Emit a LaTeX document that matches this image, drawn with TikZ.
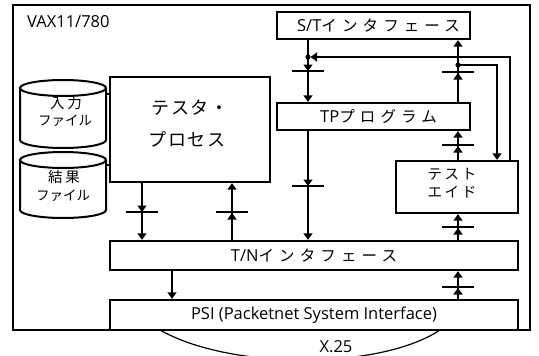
\documentclass[tikz,border=0pt]{standalone}
\usepackage{fontspec}
\setmainfont{Open Sans}
\newfontfamily\jpA{Noto Sans CJK JP}[LetterSpace=33]
\newfontfamily\jpB{Noto Sans CJK JP}[LetterSpace=8]
\newfontfamily\jpC{Noto Sans CJK JP}[LetterSpace=18]
\newfontfamily\jpD{Noto Sans CJK JP}
\usetikzlibrary{arrows.meta}
\newcommand\LT[1]{{\fontsize{16.5}{20}\selectfont #1}}
\newcommand\KA[1]{{\fontsize{15.5}{18}\jpA #1}}
\newcommand\TS[1]{{\fontsize{18}{20}\jpB #1}}
\newcommand\SA[1]{{\fontsize{14.5}{17}\jpC #1}}
\newcommand\CYa[1]{{\fontsize{14.5}{17}\jpC #1}}
\newcommand\CYb[1]{{\fontsize{13.5}{16}\jpD #1}}
\newcommand\gatedown[2]{\draw[gate] (#1-16,#2) -- (#1+16,#2); \draw[arr] (#1,#2-9) -- (#1,#2);}
\newcommand\gateup[2]{\draw[gate] (#1-16,#2) -- (#1+16,#2); \draw[arr] (#1,#2+9) -- (#1,#2+1);}
\begin{document}
\begin{tikzpicture}[x=1pt,y=-1pt,
  box/.style={draw, line width=2.3pt, inner sep=0pt, fill=white},
  conn/.style={line width=1.4pt},
  arr/.style={line width=1.4pt, -{Triangle[length=6.5pt,width=9pt]}},
  gate/.style={line width=2.4pt},
  txt/.style={inner sep=0pt},
  cyl/.style={draw, line width=2pt, fill=white},
]
\useasboundingbox (0,0) rectangle (539,356);
\clip (0,0) rectangle (539,356);

% outer frame
\node[box, fill=none, minimum width=517pt, minimum height=325pt] (vax) at (271.5,167.5) {};
\node[txt, anchor=west] (vaxlabel) at (27,22) {\LT{VAX11/780}};

% boxes
\node[box, minimum width=193pt, minimum height=27pt] (st) at (373.5,25.5) {\hspace{10pt}\LT{S/T}\KA{インタフェース}};
\node[box, minimum width=193pt, minimum height=27pt] (tp) at (373.5,116.5) {\hspace{10pt}\LT{TP}\KA{プログラム}};
\node[box, minimum width=160pt, minimum height=105pt] (tester) at (190,129.5) {};
\node[txt] (tester1) at (190,107.5) {\TS{テスタ・}};
\node[txt] (tester2) at (187,139.5) {\TS{プロセス}};
\node[box, minimum width=408pt, minimum height=29pt] (tn) at (314,255.5) {\LT{T/N}\KA{インタフェース}\hspace{14pt}};
\node[box, minimum width=408pt, minimum height=30pt] (psi) at (314,315) {\LT{PSI (Packetnet System Interface)}\hspace{4pt}};
\node[box, minimum width=122pt, minimum height=52pt] (aid) at (457,187) {};
\node[txt] (aid1) at (452,174) {\SA{テスト}};
\node[txt] (aid2) at (452,192) {\SA{エイド}};

% cylinders
\draw[cyl] (20,88) -- (20,140) arc[start angle=180, end angle=0, x radius=43, y radius=8] -- (106,88);
\draw[cyl] (63,88) ellipse[x radius=43, y radius=8];
\node[minimum width=86pt, minimum height=68pt, inner sep=0pt] (infile) at (63,114) {};
\node[txt] (in1) at (66,103) {\CYa{入力}};
\node[txt] (in2) at (65,121) {\CYb{ファイル}};

\draw[cyl] (20,160) -- (20,210) arc[start angle=180, end angle=0, x radius=43, y radius=8] -- (106,160);
\draw[cyl] (63,160) ellipse[x radius=43, y radius=8];
\node[minimum width=86pt, minimum height=66pt, inner sep=0pt] (outfile) at (63,185) {};
\node[txt] (out1) at (64,177) {\CYa{結果}};
\node[txt] (out2) at (63,196) {\CYb{ファイル}};

\coordinate (c1) at (0,94);
\coordinate (c2) at (0,165);
\draw[conn] (infile.east |- c1) -- (tester.west |- c1);
\draw[conn] (outfile.east |- c2) -- (tester.west |- c2);

% columns
\coordinate (xa) at (308,0);
\coordinate (xb) at (458,0);
\coordinate (xc) at (142,0);
\coordinate (xd) at (232,0);
\coordinate (xe) at (172,0);
\coordinate (xf) at (497,0);
\coordinate (xg) at (510,0);

\draw[arr] (st.south -| xa) -- (tp.north -| xa);
\draw[arr] (tp.north -| xb) -- (st.south -| xb);
\draw[arr] (tp.south -| xa) -- (tn.north -| xa);
\draw[arr] (aid.north -| xb) -- (tp.south -| xb);
\draw[arr] (tn.north -| xb) -- (aid.south -| xb);
\draw[arr] (psi.north -| xb) -- (tn.south -| xb);
\draw[arr] (tester.south -| xc) -- (tn.north -| xc);
\draw[arr] (tn.north -| xd) -- (tester.south -| xd);
\draw[arr] (tn.south -| xe) -- (psi.north -| xe);

% branches
\coordinate (dotR) at (458,65);
\coordinate (dotL) at (308,57);
\draw[arr] (dotR) -| (aid.north -| xf);
\draw[arr] (aid.north -| xg) |- ([xshift=2.5pt]dotL);
\fill (dotR) circle[radius=2.6pt];
\fill (dotL) circle[radius=2.6pt];

% gates
\gatedown{308}{71}
\gateup{458}{72}
\gatedown{308}{186}
\gateup{458}{145}
\gateup{458}{227}
\gateup{458}{287}
\gatedown{142}{212}
\gateup{232}{212}

% X.25
\coordinate (x25a) at (160,330);
\coordinate (x25b) at (440,330);
\draw[line width=1.2pt] (x25a) .. controls (230,370) and (380,370) .. (x25b);
\node[txt] (x25) at (336,347) {\LT{X.25}};
\end{tikzpicture}
\end{document}
